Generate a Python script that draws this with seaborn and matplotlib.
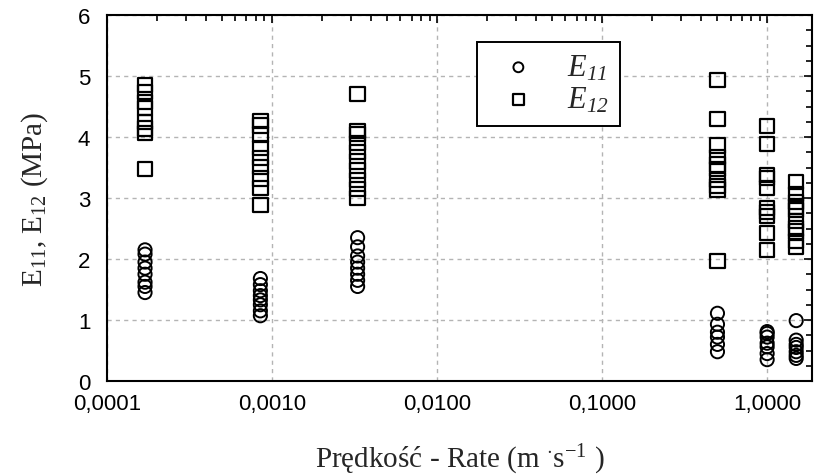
import numpy as np
import pandas as pd
import matplotlib
matplotlib.use("Agg")
import matplotlib.pyplot as plt
import matplotlib.ticker as mticker
import seaborn as sns

# ---------------------------------------------------------------------------
# data (rate in m/s, moduli in MPa)
# ---------------------------------------------------------------------------
rates = [0.00017, 0.00085, 0.0033, 0.5, 1.0, 1.5]

e11 = [
    [2.15, 2.08, 1.95, 1.85, 1.75, 1.62, 1.55, 1.45],
    [1.68, 1.58, 1.48, 1.40, 1.33, 1.25, 1.15, 1.07],
    [2.35, 2.20, 2.05, 1.95, 1.85, 1.75, 1.65, 1.55],
    [1.11, 0.93, 0.80, 0.72, 0.60, 0.48],
    [0.81, 0.78, 0.72, 0.62, 0.56, 0.45, 0.35],
    [0.99, 0.67, 0.60, 0.55, 0.48, 0.42, 0.37],
]

e12 = [
    [4.85, 4.74, 4.58, 4.47, 4.25, 4.14, 4.06, 3.48],
    [4.26, 4.19, 4.04, 3.82, 3.66, 3.51, 3.32, 3.17, 2.89],
    [4.70, 4.10, 4.05, 3.90, 3.75, 3.60, 3.45, 3.30, 3.15, 3.00],
    [4.93, 4.29, 3.86, 3.67, 3.55, 3.48, 3.29, 3.20, 3.14, 1.97],
    [4.18, 3.89, 3.38, 3.33, 3.16, 2.83, 2.77, 2.70, 2.43, 2.15],
    [3.26, 3.07, 2.93, 2.86, 2.80, 2.62, 2.50, 2.45, 2.30, 2.20],
]

x_major = [0.0001, 0.001, 0.01, 0.1, 1.0]
y_major = [0, 1, 2, 3, 4, 5, 6]


def to_long(groups, name):
    rows = []
    for r, vals in zip(rates, groups):
        for v in vals:
            rows.append({"rate": r, "value": v, "series": name})
    return pd.DataFrame(rows)


df11 = to_long(e11, "E11")
df12 = to_long(e12, "E12")

# ---------------------------------------------------------------------------
# style
# ---------------------------------------------------------------------------
sns.set_style("white")
plt.rcParams["font.family"] = ["Liberation Sans", "DejaVu Sans"]
plt.rcParams["mathtext.fontset"] = "custom"
plt.rcParams["mathtext.rm"] = "Liberation Serif"
plt.rcParams["mathtext.it"] = "Liberation Serif:italic"

fig = plt.figure(figsize=(8.14, 4.77), dpi=100)
ax = fig.add_axes([107 / 814, 1 - 382 / 477, 705 / 814, 366 / 477])

sns.scatterplot(data=df11, x="rate", y="value", marker="o", s=90,
                facecolor="none", edgecolor="black", linewidth=1.4,
                label=r"E$_{\mathregular{11}}$", ax=ax, zorder=3)
sns.scatterplot(data=df12, x="rate", y="value", marker="s", s=105,
                facecolor="none", edgecolor="black", linewidth=1.6,
                label=r"E$_{\mathregular{12}}$", ax=ax, zorder=3)

ax.set_xscale("log")
ax.set_xlim(1e-4, 1.87)
ax.set_ylim(0, 6)

ax.set_xticks(x_major)
ax.xaxis.set_major_formatter(
    mticker.FuncFormatter(lambda v, p: f"{v:.4f}".replace(".", ",")))
ax.xaxis.set_minor_locator(mticker.LogLocator(base=10, subs=np.arange(2, 10)))
ax.xaxis.set_minor_formatter(mticker.NullFormatter())
ax.set_yticks(y_major)
ax.yaxis.set_minor_locator(mticker.MultipleLocator(0.25))

ax.tick_params(which="both", direction="in", top=True, right=True,
               labelsize=16, colors="black", width=1.2)
ax.tick_params(axis="x", which="major", length=6, pad=9)
ax.tick_params(axis="y", which="major", length=6, pad=12)
ax.tick_params(which="minor", length=4)

ax.grid(True, which="major", color="#b4b4b4", linestyle=(0, (3, 3)),
        linewidth=1.0)
for sp in ax.spines.values():
    sp.set_color("black")
    sp.set_linewidth(1.5)

ax.set_xlabel(r"Prędkość - Rate (m $^{\cdot}$s$^{-1}$ )",
              family="Liberation Serif", fontsize=21, labelpad=20)
ax.set_ylabel(r"E$_{11}$, E$_{12}$ (MPa)",
              family="Liberation Serif", fontsize=21, labelpad=20)

leg = ax.legend(loc="upper left", bbox_to_anchor=(0.525, 0.926),
                prop={"family": "Liberation Serif", "style": "italic",
                      "size": 22},
                markerscale=0.75, frameon=True, fancybox=False,
                borderpad=0.35, labelspacing=0.1, handletextpad=0.6,
                borderaxespad=0, handlelength=2.0)
leg.get_frame().set_edgecolor("black")
leg.get_frame().set_linewidth(1.4)
leg.get_frame().set_alpha(1)

fig.savefig("out.png", dpi=100)
